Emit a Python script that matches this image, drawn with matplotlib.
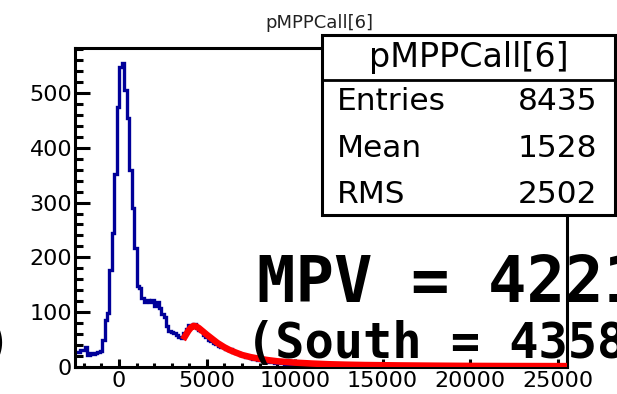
import numpy as np
import matplotlib
matplotlib.use("Agg")
import matplotlib.pyplot as plt
from matplotlib.patches import Rectangle
from matplotlib.lines import Line2D
from matplotlib.ticker import MultipleLocator

# ---- histogram content -------------------------------------------------
hist_name = "pMPPCall[6]"
x_min, x_max, n_bins = -2500, 25500, 200

counts = [
    # -2500 .. -960
    28, 27, 31, 31, 37, 22, 25, 24, 26, 28, 30,
    # pedestal peak
    49, 86, 99, 177, 244, 353, 475, 548, 555, 505, 454, 359, 290, 217, 147, 144,
    # shoulder
    125, 119, 123, 118, 122, 112, 118, 108, 96, 92, 75, 66, 64, 62, 58, 55, 53,
    # signal bump
    62, 70, 77, 76, 78, 72, 68, 66, 58, 55,
    50, 47, 44, 42, 38, 36, 37, 33, 31, 32,
    28, 26, 25, 22, 21, 19, 18,
    # tail
    17, 15, 14, 13, 12, 12, 11, 10, 9, 9,
    8, 8, 7, 7, 6, 6, 6, 5, 5, 5,
    5, 4, 4, 4, 4, 3, 4, 3, 3, 3,
    3, 3, 2, 3, 2, 2, 3, 2, 2, 2,
    2, 2, 1, 2, 2, 1, 2, 1, 1, 2,
    1, 1, 2, 1, 1, 1, 1, 1, 2, 1,
    1, 1, 1, 0, 1, 1, 1, 0, 1, 1,
    0, 1, 1, 0, 1, 0, 1, 1, 0, 1,
    0, 1, 0, 1, 0, 0, 1, 0, 1, 0,
    1, 0, 0, 1, 0, 0, 1, 0, 0, 1,
    0, 0, 1, 0, 0, 0, 1, 0, 0, 0,
    1, 0, 0, 0, 0, 1, 0, 0, 0, 0,
    0, 1, 0, 0, 0, 0, 0, 0, 1,
]

# Landau fit curve (x, value)
fit_x = [3650, 3800, 3950, 4100, 4250, 4400, 4550, 4700, 4850, 5000,
         5200, 5400, 5600, 5800, 6000, 6300, 6600, 7000, 7500, 8000,
         8500, 9000, 10000, 11000, 12000, 13000, 14000, 16000, 18000,
         20000, 22000, 25500]
fit_y = [50, 58, 66, 72, 75, 74, 71, 67, 63, 59,
         54, 49, 44, 40, 36, 31, 27, 22, 18, 15,
         12.5, 10.5, 8, 6.3, 5.0, 4.2, 3.6, 2.9, 2.4,
         2.0, 1.8, 1.6]

stats_labels = ["Entries", "Mean", "RMS"]
stats_values = ["8435", "1528", "2502"]
mpv_value = 4221
south_value = 4358

x_major = 5000
x_minor = 1000
y_major = 100
y_minor = 20
y_max = 582

# ---- figure ----------------------------------------------------------
W, H = 617, 394
fig = plt.figure(figsize=(W / 100, H / 100), dpi=100)


def fx(px):
    return px / W


def fy(py):
    return 1 - py / H


frame_l, frame_r, frame_t, frame_b = 75, 567, 48, 367
ax = fig.add_axes([fx(frame_l), fy(frame_b),
                   (frame_r - frame_l) / W, (frame_b - frame_t) / H])

edges = np.linspace(x_min, x_max, n_bins + 1)
ax.stairs(counts, edges, color="#000099", linewidth=2.4, baseline=None,
          zorder=2)
ax.plot(fit_x, fit_y, color="#ff0000", linewidth=4.7,
        solid_capstyle="butt", solid_joinstyle="round", zorder=3)

ax.set_xlim(x_min, x_max)
ax.set_ylim(0, y_max)

ax.xaxis.set_major_locator(MultipleLocator(x_major))
ax.xaxis.set_minor_locator(MultipleLocator(x_minor))
ax.yaxis.set_major_locator(MultipleLocator(y_major))
ax.yaxis.set_minor_locator(MultipleLocator(y_minor))

for s in ax.spines.values():
    s.set_linewidth(2.2)

ax.tick_params(axis="y", which="major", direction="in", length=10.5,
               width=2.2, labelsize=16, pad=2)
ax.tick_params(axis="y", which="minor", direction="in", length=5.5,
               width=2.2)
ax.tick_params(axis="x", which="major", direction="in", length=5.8,
               width=2.2, labelsize=16, pad=3)
ax.tick_params(axis="x", which="minor", direction="in", length=3.0,
               width=2.2)
ax.tick_params(top=False, right=False, which="both")
for lab in ax.get_xticklabels() + ax.get_yticklabels():
    lab.set_fontfamily("DejaVu Sans")

# ---- title -----------------------------------------------------------
fig.text(fx(319), fy(28), hist_name, ha="center", va="baseline",
         fontsize=13, color="#222222", family="DejaVu Sans")

# ---- statistics box --------------------------------------------------
box_l, box_r, box_t, box_b = 322, 615, 35, 215
fig.patches.append(Rectangle((fx(box_l), fy(box_b)),
                             (box_r - box_l) / W, (box_b - box_t) / H,
                             transform=fig.transFigure, facecolor="white",
                             edgecolor="black", linewidth=2.2, zorder=5))
fig.lines.append(Line2D([fx(box_l), fx(box_r)], [fy(80), fy(80)],
                        transform=fig.transFigure, color="black",
                        linewidth=2.0, zorder=6))
fig.text(fx(469), fy(58), hist_name, ha="center", va="center",
         fontsize=24, family="DejaVu Sans", zorder=7)
row_base = [110, 157, 203]
for lab, val, yb in zip(stats_labels, stats_values, row_base):
    fig.text(fx(337), fy(yb), lab, ha="left", va="baseline",
             fontsize=22.5, family="DejaVu Sans", zorder=7)
    fig.text(fx(597), fy(yb), val, ha="right", va="baseline",
             fontsize=22.5, family="DejaVu Sans", zorder=7)

# ---- fit annotation --------------------------------------------------
fig.text(fx(257), fy(302), f"MPV = {mpv_value}", ha="left", va="baseline",
         fontsize=46, family="DejaVu Sans Mono", fontweight="bold",
         zorder=4)
fig.text(fx(246), fy(358), f"(South = {south_value})", ha="left",
         va="baseline", fontsize=35, family="DejaVu Sans Mono",
         fontweight="bold", zorder=4)
fig.text(fx(11), fy(358), ")", ha="right", va="baseline",
         fontsize=35, family="DejaVu Sans Mono", fontweight="bold",
         zorder=4)

fig.savefig("out.png", dpi=100)
